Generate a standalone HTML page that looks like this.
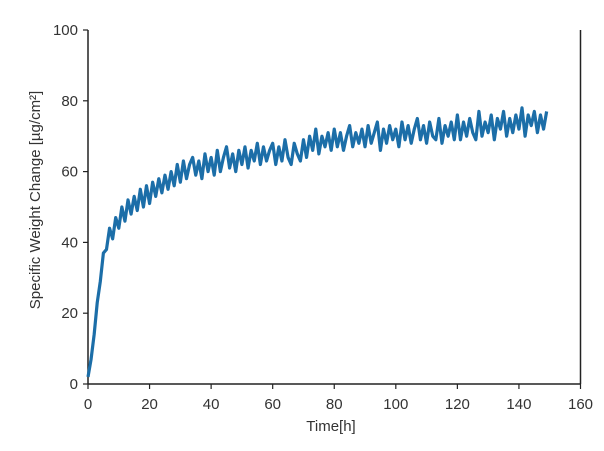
<!DOCTYPE html>
<html><head><meta charset="utf-8"><style>
body{margin:0;background:#fff;width:604px;height:446px;overflow:hidden}
text{font-family:"Liberation Sans",sans-serif;fill:#333}
</style></head><body>
<svg id="chart" width="604" height="446" viewBox="0 0 604 446">
<g id="axes"></g>
<polyline id="series" fill="none" stroke="#1c6ea8" stroke-width="3.2" stroke-linejoin="round"></polyline>
<text transform="translate(40,200) rotate(-90)" text-anchor="middle" font-size="15">Specific Weight Change [µg/cm²]</text>
<text x="331" y="431" text-anchor="middle" font-size="15">Time[h]</text>
</svg>
<script>
const xTicks=[0,20,40,60,80,100,120,140,160];
const yTicks=[0,20,40,60,80,100];
const values=[2,7,14,23,29,37,38,44,41,47,
44,50,46,52,48,53,49,55,50,56,
51,57,53,58,54,59,55,60,56,62,
57,63,58,62,64,59,63,58,65,60,
64,59,66,60,64,67,61,65,60,66,
62,67,61,66,63,68,62,67,63,66,
68,62,67,63,69,64,62,68,65,63,
69,64,70,66,72,65,70,67,71,66,
72,67,71,66,70,73,67,71,68,72,
67,73,68,71,74,66,72,68,73,69,
72,67,74,69,73,68,72,75,69,73,
68,74,70,69,75,68,73,70,74,69,
76,69,74,70,75,71,69,77,70,74,
71,76,69,75,72,77,70,75,71,76,
72,78,70,76,73,77,71,76,72,77];
const times=values.map((v,i)=>i);
const X=t=>88+t*(580.5-88)/160;
const Y=v=>384-v*(384-30)/100;
const ns="http://www.w3.org/2000/svg";
const g=document.getElementById('axes');
function mk(tag,attrs){const e=document.createElementNS(ns,tag);for(const k in attrs)e.setAttribute(k,attrs[k]);g.appendChild(e);return e;}
let l=mk('line',{x1:88,y1:30,x2:88,y2:384,stroke:'#222','stroke-width':1.5});


l=mk('line',{x1:88,y1:384,x2:581,y2:384,stroke:'#222','stroke-width':1.5});


l=mk('line',{x1:580.5,y1:30,x2:580.5,y2:384,stroke:'#222','stroke-width':1.5});


xTicks.forEach(t=>{
 const tk=mk('line',{x1:X(t),y1:384,x2:X(t),y2:389,stroke:'#222','stroke-width':1.2});
 
 
 const tx=mk('text',{x:X(t),y:409,'text-anchor':'middle','font-size':15});
 tx.textContent=t;
 
 
});
yTicks.forEach(v=>{
 const tk=mk('line',{x1:83,y1:Y(v),x2:88,y2:Y(v),stroke:'#222','stroke-width':1.2});
 
 
 const tx=mk('text',{x:78,y:Y(v)+5,'text-anchor':'end','font-size':15});
 tx.textContent=v;
 
 
});
document.getElementById('series').setAttribute('points',values.map((v,i)=>X(times[i])+','+Y(v)).join(' '));
</script>
</body></html>
